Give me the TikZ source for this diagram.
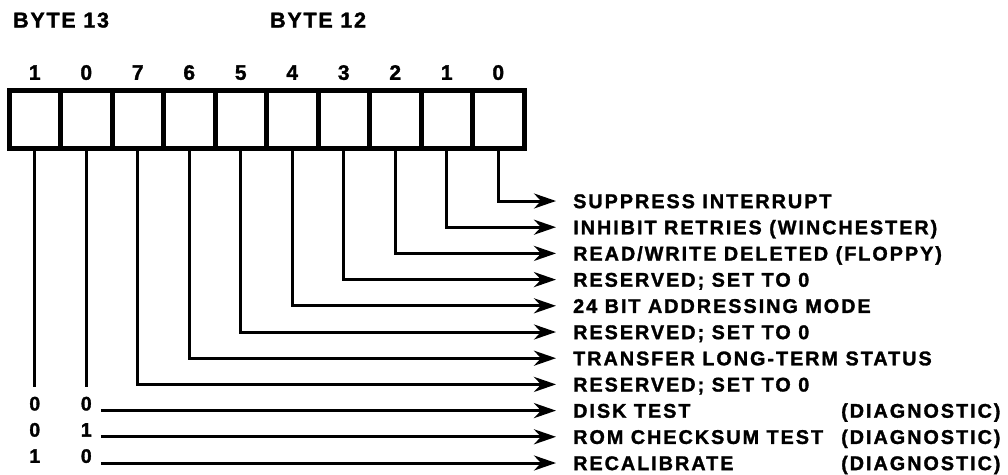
\documentclass[tikz,border=0pt]{standalone}
\usepackage{fontspec}
\newfontfamily\lblfont{Liberation Sans Bold}[LetterSpace=10,FakeBold=1.5]
\newfontfamily\hdfont{Liberation Sans Bold}[LetterSpace=8,FakeBold=1.5]
\newfontfamily\digfont{Liberation Sans Bold}[FakeBold=1.5]
\usetikzlibrary{positioning,arrows.meta}
\tikzset{
    cellbox/.style = {draw, line width=5pt, minimum width=51.5pt, minimum height=58pt, inner sep=0pt},
    headtxt/.style = {font=\hdfont\fontsize{21.5}{23}\selectfont, inner sep=0pt, text height=15pt, text depth=0pt},
    bitnum/.style = {font=\digfont\fontsize{21}{23}\selectfont, inner sep=0pt, text height=15pt, text depth=0pt},
    bitval/.style = {font=\digfont\fontsize{19.5}{21}\selectfont, inner sep=0pt, text height=14pt, text depth=0pt, anchor=south},
    fieldtxt/.style = {font=\lblfont\fontsize{19.8}{21}\selectfont, inner sep=0pt, text height=14.2pt, text depth=0pt, anchor=west},
    wire/.style = {line width=3pt},
    flagarrow/.style = {wire, -{Stealth[length=22pt,width=15pt,inset=7pt]}}
}
\begin{document}
\begin{tikzpicture}[x=1pt,y=-1pt]
    \useasboundingbox (0,0) rectangle (1008,474);
    % byte headers
    \node[headtxt, anchor=west] (hd13) at (13,20) {BYTE 13};
    \node[headtxt, anchor=west] (hd12) at (270,20) {BYTE 12};
    % register cells with bit numbers
    \foreach \b [count=\i from 0] in {1,0,7,6,5,4,3,2,1,0} {
        \node[cellbox] (cell\i) at ({34.75+51.5*\i},119) {};
        \node[bitnum, above=7.5pt of cell\i] (num\i) {\b};
    }
    % field descriptions
    \foreach \txt [count=\k from 0] in {{SUPPRESS INTERRUPT},
            {INHIBIT RETRIES (WINCHESTER)},
            {READ/WRITE DELETED (FLOPPY)},
            {RESERVED; SET TO 0},
            {24 BIT ADDRESSING MODE},
            {RESERVED; SET TO 0},
            {TRANSFER LONG-TERM STATUS},
            {RESERVED; SET TO 0},
            {DISK TEST},
            {ROM CHECKSUM TEST},
            {RECALIBRATE}} {
        \node[fieldtxt] (fld\k) at (573,{201+26.2*\k}) {\txt};
    }
    % byte 12 flags
    \foreach \i in {2,...,9} {
        \pgfmathtruncatemacro\k{9-\i}
        \draw[flagarrow] (cell\i.south) |- ([xshift=-17pt]fld\k.west);
    }
    % byte 13 diagnostic codes
    \coordinate (stop0) at (34.75,387);
    \coordinate (stop1) at (86.25,387);
    \draw[wire] (cell0.south) -- (stop0);
    \draw[wire] (cell1.south) -- (stop1);
    \foreach \a/\c [count=\j from 8] in {0/0,0/1,1/0} {
        \node[bitval] (hi\j) at (34.75,{201+26.2*\j}) {\a};
        \node[bitval] (lo\j) at (86.25,{201+26.2*\j}) {\c};
        \node[fieldtxt] (diag\j) at (841,{201+26.2*\j}) {(DIAGNOSTIC)};
        \draw[flagarrow] ([xshift=9pt]lo\j.south east) -- ([xshift=-17pt]fld\j.west);
    }
\end{tikzpicture}
\end{document}
